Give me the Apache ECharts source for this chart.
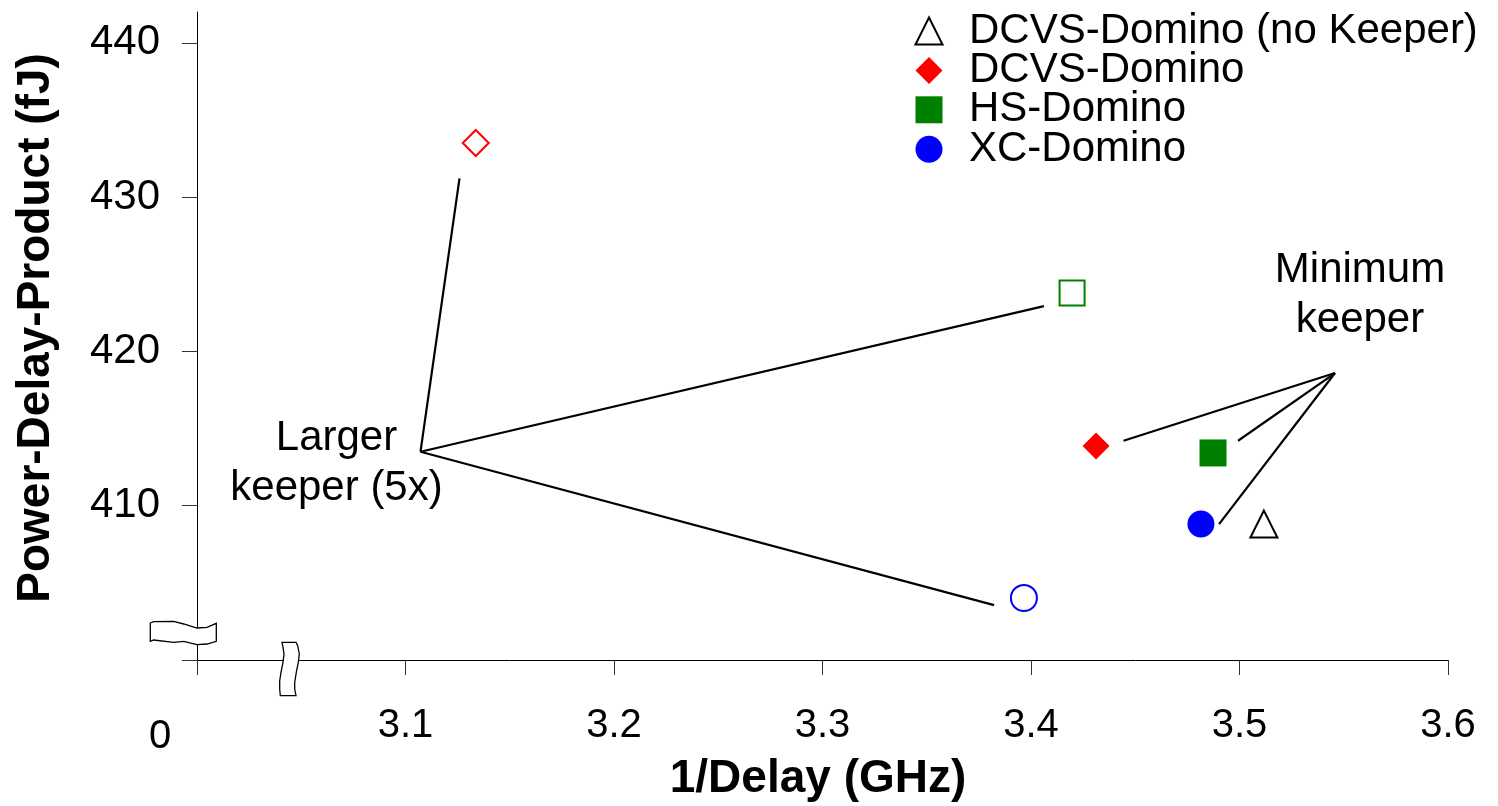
<!DOCTYPE html>
<html><head><meta charset="utf-8">
<script src="https://cdn.jsdelivr.net/npm/echarts@6/dist/echarts.min.js"></script>
<style>html,body{margin:0;padding:0;background:#fff}#c{width:1498px;height:806px}</style>
</head><body><div id="c"></div>
<script>
// ---- data ----
const xTicks = [3.0, 3.1, 3.2, 3.3, 3.4, 3.5, 3.6];
const yTicks = [400, 410, 420, 430, 440];
const yLabelValues = [410, 420, 430, 440];
const legendNames = ['DCVS-Domino (no Keeper)', 'DCVS-Domino', 'HS-Domino', 'XC-Domino'];
// minimum keeper / no keeper points [1/Delay GHz, PDP fJ]
const dcvsNoKeeper = [[3.5117, 408.81]];
const dcvsMinKeeper = [[3.4312, 413.87]];
const hsMinKeeper = [[3.4873, 413.42]];
const xcMinKeeper = [[3.4815, 408.81]];
// larger keeper (5x) points
const dcvsLargeKeeper = [[3.1337, 433.51]];
const hsLargeKeeper = [[3.4197, 423.79]];
const xcLargeKeeper = [[3.3966, 404.02]];
// annotation leader lines
const largerKeeperLines = [
  [[3.1072, 413.50], [3.1259, 431.22]],
  [[3.1072, 413.50], [3.4062, 422.94]],
  [[3.1072, 413.50], [3.3823, 403.56]]
];
const minimumKeeperLines = [
  [[3.5458, 418.60], [3.4444, 414.21]],
  [[3.5458, 418.60], [3.4993, 414.21]],
  [[3.5458, 418.60], [3.4902, 408.81]]
];
const FONT = '"Liberation Sans", Arial, sans-serif';

const chart = echarts.init(document.getElementById('c'), null, {renderer: 'canvas'});

const lineSeries = largerKeeperLines.concat(minimumKeeperLines).map((seg, i) => ({
  type: 'line', name: 'lead' + i, data: seg, symbol: 'none', silent: true,
  lineStyle: {color: '#000', width: 2.2, type: 'solid', opacity: 1}, z: 1, animation: false
}));

function scatter(name, data, symbol, size, itemStyle) {
  return {type: 'scatter', name, data, symbol, symbolSize: size,
    itemStyle: Object.assign({opacity: 1}, itemStyle), z: 3, animation: false};
}

const option = {
  backgroundColor: '#fff',
  animation: false,
  grid: {left: 197, right: 50, top: 12, bottom: 146, containLabel: false},
  xAxis: {
    type: 'value', min: 3.0, max: 3.6, interval: 0.1,
    axisLine: {show: true, lineStyle: {color: '#000', width: 1}},
    axisTick: {show: true, length: 15, lineStyle: {color: '#333', width: 1}},
    axisLabel: {
      margin: 46, fontSize: 40, color: '#000', fontFamily: FONT,
      formatter: v => (Math.abs(v - 3.0) < 1e-6 ? '' : v.toFixed(1))
    },
    splitLine: {show: false}
  },
  yAxis: {
    type: 'value', min: 400, max: 442, interval: 10,
    axisLine: {show: true, lineStyle: {color: '#000', width: 1}},
    axisTick: {show: true, length: 15, customValues: yTicks, lineStyle: {color: '#333', width: 1}},
    axisLabel: {
      margin: 37, fontSize: 42, color: '#000', fontFamily: FONT, customValues: yLabelValues,
      formatter: v => (yLabelValues.indexOf(v) >= 0 ? String(v) : '')
    },
    splitLine: {show: false}
  },
  legend: {
    data: legendNames, orient: 'vertical', left: 914.5, top: 10, padding: 0,
    itemWidth: 27, itemHeight: 27, itemGap: -2.6,
    textStyle: {fontSize: 42, color: '#000', fontFamily: FONT, lineHeight: 31, padding: [0, 0, 8, 21.5]},
    selectedMode: false
  },
  series: lineSeries.concat([
    scatter(legendNames[0], dcvsNoKeeper, 'triangle', 27, {color: '#fff', borderColor: '#000', borderWidth: 2}),
    scatter(legendNames[1], dcvsMinKeeper, 'diamond', 27, {color: '#ff0000'}),
    scatter(legendNames[2], hsMinKeeper, 'rect', 27, {color: '#008000'}),
    scatter(legendNames[3], xcMinKeeper, 'circle', 27, {color: '#0000ff'}),
    scatter('DCVS-Domino (5x keeper)', dcvsLargeKeeper, 'diamond', 26, {color: '#fff', borderColor: '#ff0000', borderWidth: 2}),
    scatter('HS-Domino (5x keeper)', hsLargeKeeper, 'rect', 25, {color: '#fff', borderColor: '#008000', borderWidth: 2}),
    scatter('XC-Domino (5x keeper)', xcLargeKeeper, 'circle', 26, {color: '#fff', borderColor: '#0000ff', borderWidth: 2})
  ])
};
chart.setOption(option);

// decorations: axis titles, annotations, axis breaks, origin label
const o = chart.convertToPixel({xAxisIndex: 0, yAxisIndex: 0}, [xTicks[0], yTicks[0]]);
const ox = o[0], oy = o[1];
const yBreak = [[-46.7,-37],[-43.3,-38.3],[-23.3,-38.7],[-13.3,-36],[0,-32],[10,-32.7],[19.3,-36.7],
  [19.3,-18.7],[10,-16],[0,-15.3],[-13.3,-18.7],[-23.3,-17.7],[-43.3,-20],[-46.7,-18.7]];
const xBreak = [[85,-17.7],[99,-17.7],[100.7,-14.3],[102.3,-6],[101.3,2.3],[99.3,12.3],[97.7,22.3],[97.7,29],[99,35.7],
  [83.3,35.7],[82.7,29],[82.7,20.7],[84,12.3],[86,2.3],[87,-6],[86,-12.7]];
const shift = pts => pts.map(p => [ox + p[0], oy + p[1]]);

chart.setOption({
  graphic: [
    {type: 'polygon', z: 100, shape: {points: shift(yBreak)}, style: {fill: '#fff', stroke: '#000', lineWidth: 1.3}},
    {type: 'polygon', z: 100, shape: {points: shift(xBreak)}, style: {fill: '#fff', stroke: '#000', lineWidth: 1.3}},
    {type: 'text', z: 100, style: {text: '0', x: ox - 37, y: oy + 77, fontSize: 40, fontFamily: FONT, fill: '#000', align: 'center', verticalAlign: 'middle'}},
    {type: 'text', z: 100, style: {text: '1/Delay (GHz)', x: 818, y: 779, fontSize: 46, fontWeight: 'bold', fontFamily: FONT, fill: '#000', align: 'center', verticalAlign: 'middle'}},
    {type: 'text', z: 100, x: 36, y: 328, rotation: Math.PI / 2, style: {text: 'Power-Delay-Product (fJ)', x: 0, y: 0, fontSize: 46, fontWeight: 'bold', fontFamily: FONT, fill: '#000', align: 'center', verticalAlign: 'middle'}},
    {type: 'text', z: 100, style: {text: 'Larger\nkeeper (5x)', x: 336.5, y: 463.5, fontSize: 42, lineHeight: 50, fontFamily: FONT, fill: '#000', align: 'center', verticalAlign: 'middle'}},
    {type: 'text', z: 100, style: {text: 'Minimum\nkeeper', x: 1360, y: 295.5, fontSize: 42, lineHeight: 50, fontFamily: FONT, fill: '#000', align: 'center', verticalAlign: 'middle'}}
  ]
});
</script></body></html>
